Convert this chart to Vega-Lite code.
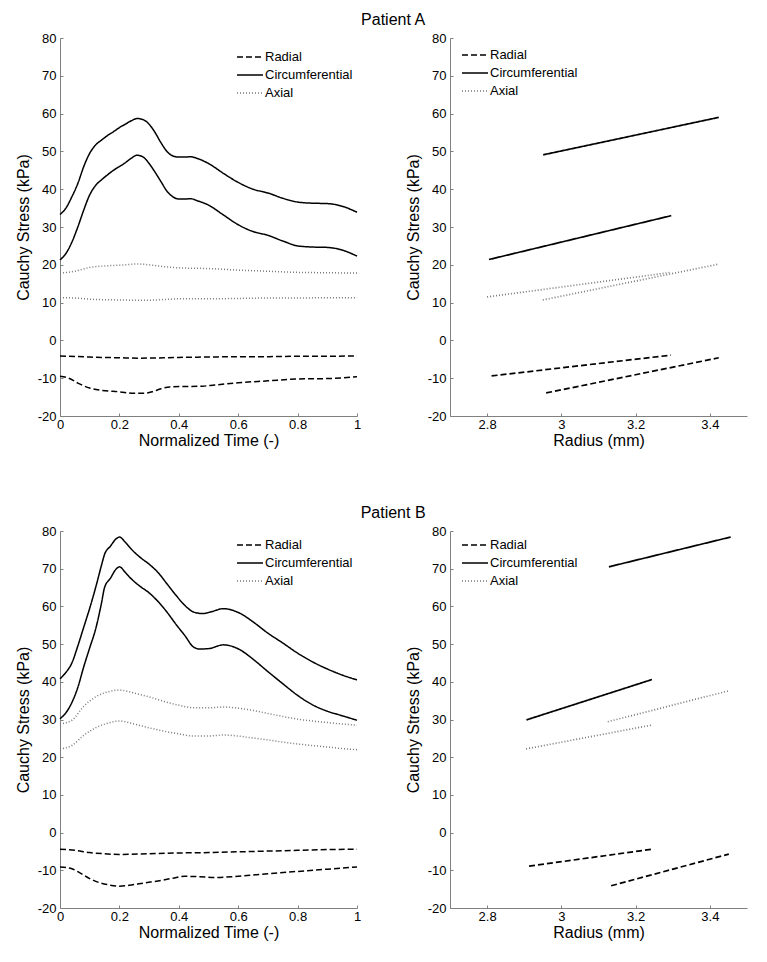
{
  "$schema": "https://vega.github.io/schema/vega-lite/v6.json",
  "background": "white",
  "padding": {"left": 15, "top": 12, "right": 5, "bottom": 5},
  "config": {
    "font": "Liberation Sans",
    "view": {"stroke": null},
    "axis": {"domainColor": "#808080", "tickColor": "#808080", "tickSize": -3, "labelFontSize": 13, "labelColor": "#000000", "titleFontSize": 16, "titleFontWeight": "normal", "titleColor": "#000000", "grid": false, "labelFlush": false, "labelFont": "Liberation Sans", "titleFont": "Liberation Sans"},
    "axisX": {"labelPadding": 5, "titlePadding": 1},
    "axisY": {"labelPadding": 7, "titlePadding": 6},
    "legend": {"title": null, "orient": "none", "symbolType": "M-1.6,0H1", "symbolSize": 400, "symbolStrokeWidth": 1.5, "symbolFillColor": "transparent", "labelFontSize": 13, "labelFont": "Liberation Sans", "labelColor": "#000000", "labelOffset": 1, "rowPadding": -11, "padding": 0},
    "title": {"fontSize": 16, "fontWeight": "normal", "anchor": "middle", "font": "Liberation Sans", "color": "#000000"}
  },
  "datasets": {
    "A_time": [
      {"x":0,"y":33.3,"c":"Circumferential","k":"c1"},{"x":0.02,"y":35,"c":"Circumferential","k":"c1"},{"x":0.04,"y":38,"c":"Circumferential","k":"c1"},{"x":0.06,"y":41.5,"c":"Circumferential","k":"c1"},{"x":0.08,"y":46,"c":"Circumferential","k":"c1"},{"x":0.1,"y":49.5,"c":"Circumferential","k":"c1"},{"x":0.12,"y":51.7,"c":"Circumferential","k":"c1"},{"x":0.14,"y":53,"c":"Circumferential","k":"c1"},{"x":0.16,"y":54.2,"c":"Circumferential","k":"c1"},{"x":0.18,"y":55.2,"c":"Circumferential","k":"c1"},{"x":0.2,"y":56.3,"c":"Circumferential","k":"c1"},{"x":0.22,"y":57.2,"c":"Circumferential","k":"c1"},{"x":0.24,"y":58.1,"c":"Circumferential","k":"c1"},{"x":0.26,"y":58.7,"c":"Circumferential","k":"c1"},{"x":0.28,"y":58.4,"c":"Circumferential","k":"c1"},{"x":0.3,"y":57.2,"c":"Circumferential","k":"c1"},{"x":0.32,"y":55,"c":"Circumferential","k":"c1"},{"x":0.34,"y":52.3,"c":"Circumferential","k":"c1"},{"x":0.36,"y":50,"c":"Circumferential","k":"c1"},{"x":0.38,"y":48.8,"c":"Circumferential","k":"c1"},{"x":0.4,"y":48.5,"c":"Circumferential","k":"c1"},{"x":0.42,"y":48.5,"c":"Circumferential","k":"c1"},{"x":0.44,"y":48.6,"c":"Circumferential","k":"c1"},{"x":0.46,"y":48.2,"c":"Circumferential","k":"c1"},{"x":0.5,"y":46.8,"c":"Circumferential","k":"c1"},{"x":0.55,"y":44.2,"c":"Circumferential","k":"c1"},{"x":0.6,"y":41.8,"c":"Circumferential","k":"c1"},{"x":0.65,"y":40,"c":"Circumferential","k":"c1"},{"x":0.7,"y":39,"c":"Circumferential","k":"c1"},{"x":0.75,"y":37.6,"c":"Circumferential","k":"c1"},{"x":0.8,"y":36.6,"c":"Circumferential","k":"c1"},{"x":0.85,"y":36.3,"c":"Circumferential","k":"c1"},{"x":0.9,"y":36.2,"c":"Circumferential","k":"c1"},{"x":0.95,"y":35.5,"c":"Circumferential","k":"c1"},{"x":1,"y":33.9,"c":"Circumferential","k":"c1"},
      {"x":0,"y":21.3,"c":"Circumferential","k":"c2"},{"x":0.02,"y":23,"c":"Circumferential","k":"c2"},{"x":0.04,"y":26,"c":"Circumferential","k":"c2"},{"x":0.06,"y":30,"c":"Circumferential","k":"c2"},{"x":0.08,"y":34.5,"c":"Circumferential","k":"c2"},{"x":0.1,"y":38.5,"c":"Circumferential","k":"c2"},{"x":0.12,"y":41,"c":"Circumferential","k":"c2"},{"x":0.14,"y":42.5,"c":"Circumferential","k":"c2"},{"x":0.16,"y":43.8,"c":"Circumferential","k":"c2"},{"x":0.18,"y":45,"c":"Circumferential","k":"c2"},{"x":0.2,"y":46,"c":"Circumferential","k":"c2"},{"x":0.22,"y":47,"c":"Circumferential","k":"c2"},{"x":0.24,"y":48.2,"c":"Circumferential","k":"c2"},{"x":0.26,"y":49,"c":"Circumferential","k":"c2"},{"x":0.28,"y":48.5,"c":"Circumferential","k":"c2"},{"x":0.3,"y":46.8,"c":"Circumferential","k":"c2"},{"x":0.32,"y":44.5,"c":"Circumferential","k":"c2"},{"x":0.34,"y":42,"c":"Circumferential","k":"c2"},{"x":0.36,"y":39.5,"c":"Circumferential","k":"c2"},{"x":0.38,"y":38,"c":"Circumferential","k":"c2"},{"x":0.4,"y":37.4,"c":"Circumferential","k":"c2"},{"x":0.42,"y":37.4,"c":"Circumferential","k":"c2"},{"x":0.44,"y":37.5,"c":"Circumferential","k":"c2"},{"x":0.46,"y":37,"c":"Circumferential","k":"c2"},{"x":0.5,"y":35.8,"c":"Circumferential","k":"c2"},{"x":0.55,"y":33.2,"c":"Circumferential","k":"c2"},{"x":0.6,"y":30.6,"c":"Circumferential","k":"c2"},{"x":0.65,"y":28.8,"c":"Circumferential","k":"c2"},{"x":0.7,"y":27.8,"c":"Circumferential","k":"c2"},{"x":0.75,"y":26.3,"c":"Circumferential","k":"c2"},{"x":0.8,"y":25,"c":"Circumferential","k":"c2"},{"x":0.85,"y":24.7,"c":"Circumferential","k":"c2"},{"x":0.9,"y":24.6,"c":"Circumferential","k":"c2"},{"x":0.95,"y":23.9,"c":"Circumferential","k":"c2"},{"x":1,"y":22.3,"c":"Circumferential","k":"c2"},
      {"x":0,"y":17.8,"c":"Axial","k":"a1"},{"x":0.05,"y":18.3,"c":"Axial","k":"a1"},{"x":0.1,"y":19.3,"c":"Axial","k":"a1"},{"x":0.15,"y":19.7,"c":"Axial","k":"a1"},{"x":0.2,"y":19.9,"c":"Axial","k":"a1"},{"x":0.26,"y":20.2,"c":"Axial","k":"a1"},{"x":0.3,"y":20,"c":"Axial","k":"a1"},{"x":0.35,"y":19.5,"c":"Axial","k":"a1"},{"x":0.4,"y":19.2,"c":"Axial","k":"a1"},{"x":0.5,"y":19,"c":"Axial","k":"a1"},{"x":0.6,"y":18.6,"c":"Axial","k":"a1"},{"x":0.7,"y":18.3,"c":"Axial","k":"a1"},{"x":0.8,"y":18,"c":"Axial","k":"a1"},{"x":0.9,"y":17.9,"c":"Axial","k":"a1"},{"x":1,"y":17.8,"c":"Axial","k":"a1"},
      {"x":0,"y":11.3,"c":"Axial","k":"a2"},{"x":0.05,"y":11.2,"c":"Axial","k":"a2"},{"x":0.1,"y":10.9,"c":"Axial","k":"a2"},{"x":0.2,"y":10.7,"c":"Axial","k":"a2"},{"x":0.28,"y":10.6,"c":"Axial","k":"a2"},{"x":0.35,"y":10.8,"c":"Axial","k":"a2"},{"x":0.4,"y":11,"c":"Axial","k":"a2"},{"x":0.5,"y":11,"c":"Axial","k":"a2"},{"x":0.6,"y":11.1,"c":"Axial","k":"a2"},{"x":0.7,"y":11.2,"c":"Axial","k":"a2"},{"x":0.8,"y":11.2,"c":"Axial","k":"a2"},{"x":0.9,"y":11.3,"c":"Axial","k":"a2"},{"x":1,"y":11.3,"c":"Axial","k":"a2"},
      {"x":0,"y":-4.1,"c":"Radial","k":"r1"},{"x":0.1,"y":-4.4,"c":"Radial","k":"r1"},{"x":0.2,"y":-4.6,"c":"Radial","k":"r1"},{"x":0.27,"y":-4.7,"c":"Radial","k":"r1"},{"x":0.4,"y":-4.5,"c":"Radial","k":"r1"},{"x":0.5,"y":-4.4,"c":"Radial","k":"r1"},{"x":0.6,"y":-4.3,"c":"Radial","k":"r1"},{"x":0.7,"y":-4.3,"c":"Radial","k":"r1"},{"x":0.8,"y":-4.2,"c":"Radial","k":"r1"},{"x":0.9,"y":-4.2,"c":"Radial","k":"r1"},{"x":1,"y":-4.1,"c":"Radial","k":"r1"},
      {"x":0,"y":-9.5,"c":"Radial","k":"r2"},{"x":0.03,"y":-10,"c":"Radial","k":"r2"},{"x":0.06,"y":-11.3,"c":"Radial","k":"r2"},{"x":0.1,"y":-12.6,"c":"Radial","k":"r2"},{"x":0.14,"y":-13.2,"c":"Radial","k":"r2"},{"x":0.2,"y":-13.6,"c":"Radial","k":"r2"},{"x":0.25,"y":-14,"c":"Radial","k":"r2"},{"x":0.28,"y":-14,"c":"Radial","k":"r2"},{"x":0.31,"y":-13.6,"c":"Radial","k":"r2"},{"x":0.34,"y":-12.8,"c":"Radial","k":"r2"},{"x":0.37,"y":-12.3,"c":"Radial","k":"r2"},{"x":0.42,"y":-12.2,"c":"Radial","k":"r2"},{"x":0.48,"y":-12.1,"c":"Radial","k":"r2"},{"x":0.52,"y":-11.8,"c":"Radial","k":"r2"},{"x":0.6,"y":-11.2,"c":"Radial","k":"r2"},{"x":0.7,"y":-10.7,"c":"Radial","k":"r2"},{"x":0.8,"y":-10.2,"c":"Radial","k":"r2"},{"x":0.9,"y":-10.1,"c":"Radial","k":"r2"},{"x":0.95,"y":-9.9,"c":"Radial","k":"r2"},{"x":1,"y":-9.6,"c":"Radial","k":"r2"}
    ],
    "A_rad": [
      {"x":2.951,"y":49.1,"c":"Circumferential","k":"c1"},{"x":3.424,"y":59.0,"c":"Circumferential","k":"c1"},
      {"x":2.805,"y":21.4,"c":"Circumferential","k":"c2"},{"x":3.296,"y":33.0,"c":"Circumferential","k":"c2"},
      {"x":2.8,"y":11.5,"c":"Axial","k":"a1"},{"x":3.296,"y":18.0,"c":"Axial","k":"a1"},
      {"x":2.95,"y":10.7,"c":"Axial","k":"a2"},{"x":3.42,"y":20.1,"c":"Axial","k":"a2"},
      {"x":2.812,"y":-9.4,"c":"Radial","k":"r1"},{"x":3.295,"y":-3.9,"c":"Radial","k":"r1"},
      {"x":2.959,"y":-13.9,"c":"Radial","k":"r2"},{"x":3.424,"y":-4.6,"c":"Radial","k":"r2"}
    ],
    "B_time": [
      {"x":0,"y":40.8,"c":"Circumferential","k":"c1"},{"x":0.02,"y":42.5,"c":"Circumferential","k":"c1"},{"x":0.04,"y":45,"c":"Circumferential","k":"c1"},{"x":0.06,"y":49.5,"c":"Circumferential","k":"c1"},{"x":0.08,"y":54.5,"c":"Circumferential","k":"c1"},{"x":0.1,"y":59.5,"c":"Circumferential","k":"c1"},{"x":0.12,"y":65,"c":"Circumferential","k":"c1"},{"x":0.14,"y":71,"c":"Circumferential","k":"c1"},{"x":0.15,"y":73.8,"c":"Circumferential","k":"c1"},{"x":0.17,"y":76,"c":"Circumferential","k":"c1"},{"x":0.19,"y":78,"c":"Circumferential","k":"c1"},{"x":0.2,"y":78.4,"c":"Circumferential","k":"c1"},{"x":0.22,"y":77,"c":"Circumferential","k":"c1"},{"x":0.24,"y":75.2,"c":"Circumferential","k":"c1"},{"x":0.27,"y":73,"c":"Circumferential","k":"c1"},{"x":0.3,"y":71.2,"c":"Circumferential","k":"c1"},{"x":0.33,"y":69,"c":"Circumferential","k":"c1"},{"x":0.36,"y":66,"c":"Circumferential","k":"c1"},{"x":0.39,"y":63,"c":"Circumferential","k":"c1"},{"x":0.42,"y":60.3,"c":"Circumferential","k":"c1"},{"x":0.45,"y":58.5,"c":"Circumferential","k":"c1"},{"x":0.48,"y":58.1,"c":"Circumferential","k":"c1"},{"x":0.51,"y":58.6,"c":"Circumferential","k":"c1"},{"x":0.55,"y":59.4,"c":"Circumferential","k":"c1"},{"x":0.58,"y":59,"c":"Circumferential","k":"c1"},{"x":0.61,"y":58,"c":"Circumferential","k":"c1"},{"x":0.65,"y":55.9,"c":"Circumferential","k":"c1"},{"x":0.7,"y":52.9,"c":"Circumferential","k":"c1"},{"x":0.75,"y":50.3,"c":"Circumferential","k":"c1"},{"x":0.8,"y":47.6,"c":"Circumferential","k":"c1"},{"x":0.85,"y":45.3,"c":"Circumferential","k":"c1"},{"x":0.9,"y":43.4,"c":"Circumferential","k":"c1"},{"x":0.95,"y":41.8,"c":"Circumferential","k":"c1"},{"x":1,"y":40.5,"c":"Circumferential","k":"c1"},
      {"x":0,"y":30.2,"c":"Circumferential","k":"c2"},{"x":0.02,"y":31.8,"c":"Circumferential","k":"c2"},{"x":0.04,"y":34.5,"c":"Circumferential","k":"c2"},{"x":0.06,"y":38.5,"c":"Circumferential","k":"c2"},{"x":0.08,"y":44,"c":"Circumferential","k":"c2"},{"x":0.1,"y":49,"c":"Circumferential","k":"c2"},{"x":0.12,"y":54,"c":"Circumferential","k":"c2"},{"x":0.14,"y":61,"c":"Circumferential","k":"c2"},{"x":0.15,"y":65,"c":"Circumferential","k":"c2"},{"x":0.17,"y":67.5,"c":"Circumferential","k":"c2"},{"x":0.19,"y":70,"c":"Circumferential","k":"c2"},{"x":0.2,"y":70.5,"c":"Circumferential","k":"c2"},{"x":0.22,"y":69,"c":"Circumferential","k":"c2"},{"x":0.24,"y":67.3,"c":"Circumferential","k":"c2"},{"x":0.27,"y":65.3,"c":"Circumferential","k":"c2"},{"x":0.3,"y":63.6,"c":"Circumferential","k":"c2"},{"x":0.33,"y":61.3,"c":"Circumferential","k":"c2"},{"x":0.36,"y":58.5,"c":"Circumferential","k":"c2"},{"x":0.39,"y":55.3,"c":"Circumferential","k":"c2"},{"x":0.42,"y":52.3,"c":"Circumferential","k":"c2"},{"x":0.45,"y":49.2,"c":"Circumferential","k":"c2"},{"x":0.47,"y":48.7,"c":"Circumferential","k":"c2"},{"x":0.5,"y":48.8,"c":"Circumferential","k":"c2"},{"x":0.55,"y":49.8,"c":"Circumferential","k":"c2"},{"x":0.58,"y":49.4,"c":"Circumferential","k":"c2"},{"x":0.61,"y":48.3,"c":"Circumferential","k":"c2"},{"x":0.65,"y":46,"c":"Circumferential","k":"c2"},{"x":0.7,"y":42.7,"c":"Circumferential","k":"c2"},{"x":0.75,"y":39.5,"c":"Circumferential","k":"c2"},{"x":0.8,"y":36.4,"c":"Circumferential","k":"c2"},{"x":0.85,"y":33.9,"c":"Circumferential","k":"c2"},{"x":0.9,"y":32.2,"c":"Circumferential","k":"c2"},{"x":0.95,"y":31,"c":"Circumferential","k":"c2"},{"x":1,"y":29.8,"c":"Circumferential","k":"c2"},
      {"x":0,"y":28.8,"c":"Axial","k":"a1"},{"x":0.04,"y":29.8,"c":"Axial","k":"a1"},{"x":0.08,"y":33.5,"c":"Axial","k":"a1"},{"x":0.12,"y":36,"c":"Axial","k":"a1"},{"x":0.16,"y":37.3,"c":"Axial","k":"a1"},{"x":0.2,"y":37.8,"c":"Axial","k":"a1"},{"x":0.25,"y":37,"c":"Axial","k":"a1"},{"x":0.3,"y":36,"c":"Axial","k":"a1"},{"x":0.35,"y":34.8,"c":"Axial","k":"a1"},{"x":0.4,"y":33.8,"c":"Axial","k":"a1"},{"x":0.45,"y":33.1,"c":"Axial","k":"a1"},{"x":0.5,"y":33.1,"c":"Axial","k":"a1"},{"x":0.55,"y":33.3,"c":"Axial","k":"a1"},{"x":0.6,"y":33,"c":"Axial","k":"a1"},{"x":0.65,"y":32.4,"c":"Axial","k":"a1"},{"x":0.7,"y":31.6,"c":"Axial","k":"a1"},{"x":0.75,"y":30.8,"c":"Axial","k":"a1"},{"x":0.8,"y":30.1,"c":"Axial","k":"a1"},{"x":0.85,"y":29.6,"c":"Axial","k":"a1"},{"x":0.9,"y":29.2,"c":"Axial","k":"a1"},{"x":0.95,"y":28.8,"c":"Axial","k":"a1"},{"x":1,"y":28.5,"c":"Axial","k":"a1"},
      {"x":0,"y":22.2,"c":"Axial","k":"a2"},{"x":0.04,"y":23.1,"c":"Axial","k":"a2"},{"x":0.08,"y":25.8,"c":"Axial","k":"a2"},{"x":0.12,"y":27.8,"c":"Axial","k":"a2"},{"x":0.16,"y":29,"c":"Axial","k":"a2"},{"x":0.2,"y":29.6,"c":"Axial","k":"a2"},{"x":0.25,"y":28.8,"c":"Axial","k":"a2"},{"x":0.3,"y":27.8,"c":"Axial","k":"a2"},{"x":0.35,"y":26.9,"c":"Axial","k":"a2"},{"x":0.4,"y":26.2,"c":"Axial","k":"a2"},{"x":0.45,"y":25.6,"c":"Axial","k":"a2"},{"x":0.5,"y":25.6,"c":"Axial","k":"a2"},{"x":0.55,"y":25.9,"c":"Axial","k":"a2"},{"x":0.6,"y":25.6,"c":"Axial","k":"a2"},{"x":0.65,"y":25.1,"c":"Axial","k":"a2"},{"x":0.7,"y":24.6,"c":"Axial","k":"a2"},{"x":0.75,"y":24,"c":"Axial","k":"a2"},{"x":0.8,"y":23.5,"c":"Axial","k":"a2"},{"x":0.85,"y":23.1,"c":"Axial","k":"a2"},{"x":0.9,"y":22.7,"c":"Axial","k":"a2"},{"x":0.95,"y":22.3,"c":"Axial","k":"a2"},{"x":1,"y":22,"c":"Axial","k":"a2"},
      {"x":0,"y":-4.4,"c":"Radial","k":"r1"},{"x":0.05,"y":-4.7,"c":"Radial","k":"r1"},{"x":0.1,"y":-5.3,"c":"Radial","k":"r1"},{"x":0.15,"y":-5.6,"c":"Radial","k":"r1"},{"x":0.2,"y":-5.8,"c":"Radial","k":"r1"},{"x":0.3,"y":-5.6,"c":"Radial","k":"r1"},{"x":0.4,"y":-5.4,"c":"Radial","k":"r1"},{"x":0.5,"y":-5.3,"c":"Radial","k":"r1"},{"x":0.6,"y":-5.1,"c":"Radial","k":"r1"},{"x":0.7,"y":-4.9,"c":"Radial","k":"r1"},{"x":0.8,"y":-4.7,"c":"Radial","k":"r1"},{"x":0.9,"y":-4.5,"c":"Radial","k":"r1"},{"x":1,"y":-4.4,"c":"Radial","k":"r1"},
      {"x":0,"y":-9.1,"c":"Radial","k":"r2"},{"x":0.04,"y":-9.6,"c":"Radial","k":"r2"},{"x":0.07,"y":-10.8,"c":"Radial","k":"r2"},{"x":0.1,"y":-12.2,"c":"Radial","k":"r2"},{"x":0.13,"y":-13.2,"c":"Radial","k":"r2"},{"x":0.16,"y":-13.8,"c":"Radial","k":"r2"},{"x":0.2,"y":-14.2,"c":"Radial","k":"r2"},{"x":0.24,"y":-13.9,"c":"Radial","k":"r2"},{"x":0.28,"y":-13.4,"c":"Radial","k":"r2"},{"x":0.34,"y":-12.7,"c":"Radial","k":"r2"},{"x":0.38,"y":-12.1,"c":"Radial","k":"r2"},{"x":0.42,"y":-11.6,"c":"Radial","k":"r2"},{"x":0.47,"y":-11.7,"c":"Radial","k":"r2"},{"x":0.52,"y":-11.9,"c":"Radial","k":"r2"},{"x":0.58,"y":-11.7,"c":"Radial","k":"r2"},{"x":0.64,"y":-11.3,"c":"Radial","k":"r2"},{"x":0.7,"y":-10.9,"c":"Radial","k":"r2"},{"x":0.8,"y":-10.3,"c":"Radial","k":"r2"},{"x":0.9,"y":-9.7,"c":"Radial","k":"r2"},{"x":1,"y":-9.1,"c":"Radial","k":"r2"}
    ],
    "B_rad": [
      {"x":3.128,"y":70.5,"c":"Circumferential","k":"c1"},{"x":3.456,"y":78.4,"c":"Circumferential","k":"c1"},
      {"x":2.906,"y":29.9,"c":"Circumferential","k":"c2"},{"x":3.244,"y":40.6,"c":"Circumferential","k":"c2"},
      {"x":3.125,"y":29.4,"c":"Axial","k":"a1"},{"x":3.454,"y":37.7,"c":"Axial","k":"a1"},
      {"x":2.905,"y":22.2,"c":"Axial","k":"a2"},{"x":3.242,"y":28.5,"c":"Axial","k":"a2"},
      {"x":2.913,"y":-8.9,"c":"Radial","k":"r1"},{"x":3.244,"y":-4.4,"c":"Radial","k":"r1"},
      {"x":3.134,"y":-14.1,"c":"Radial","k":"r2"},{"x":3.451,"y":-5.7,"c":"Radial","k":"r2"}
    ]
  },
  "resolve": {"scale": {"color": "independent", "strokeDash": "independent"}, "legend": {"color": "independent", "strokeDash": "independent"}},
  "spacing": 57,
  "vconcat": [
    {
      "title": {"text": "Patient A", "dx": 12},
      "spacing": 44,
      "resolve": {"scale": {"color": "independent", "strokeDash": "independent"}, "legend": {"color": "independent", "strokeDash": "independent"}},
      "hconcat": [
        {
          "width": 297, "height": 378,
          "data": {"name": "A_time"},
          "mark": {"type": "line", "strokeWidth": 1.5, "interpolate": "monotone"},
          "encoding": {
            "x": {"field": "x", "type": "quantitative", "scale": {"domain": [0, 1], "nice": false}, "axis": {"title": "Normalized Time (-)", "values": [0, 0.2, 0.4, 0.6, 0.8, 1], "labelExpr": "'' + datum.value"}},
            "y": {"field": "y", "type": "quantitative", "scale": {"domain": [-20, 80], "nice": false}, "axis": {"title": "Cauchy Stress (kPa)", "values": [-20, -10, 0, 10, 20, 30, 40, 50, 60, 70, 80], "labelExpr": "'' + datum.value"}},
            "detail": {"field": "k"},
            "color": {"field": "c", "type": "nominal", "scale": {"domain": ["Radial", "Circumferential", "Axial"], "range": ["#000000", "#000000", "#7a7a7a"]}, "legend": {"legendX": 182, "legendY": 8}},
            "strokeDash": {"field": "c", "type": "nominal", "scale": {"domain": ["Radial", "Circumferential", "Axial"], "range": [[6, 3], [1, 0], [1, 2]]}, "legend": {"legendX": 182, "legendY": 8}}
          }
        },
        {
          "width": 297, "height": 378,
          "data": {"name": "A_rad"},
          "mark": {"type": "line", "strokeWidth": 1.7},
          "encoding": {
            "x": {"field": "x", "type": "quantitative", "scale": {"domain": [2.7, 3.5], "nice": false, "zero": false}, "axis": {"title": "Radius (mm)", "values": [2.8, 3, 3.2, 3.4], "labelExpr": "'' + datum.value"}},
            "y": {"field": "y", "type": "quantitative", "scale": {"domain": [-20, 80], "nice": false}, "axis": {"title": "Cauchy Stress (kPa)", "values": [-20, -10, 0, 10, 20, 30, 40, 50, 60, 70, 80], "labelExpr": "'' + datum.value"}},
            "detail": {"field": "k"},
            "color": {"field": "c", "type": "nominal", "scale": {"domain": ["Radial", "Circumferential", "Axial"], "range": ["#000000", "#000000", "#7a7a7a"]}, "legend": {"legendX": 17, "legendY": 6}},
            "strokeDash": {"field": "c", "type": "nominal", "scale": {"domain": ["Radial", "Circumferential", "Axial"], "range": [[6, 3], [1, 0], [1, 2]]}, "legend": {"legendX": 17, "legendY": 6}}
          }
        }
      ]
    },
    {
      "title": {"text": "Patient B", "dx": 12},
      "spacing": 44,
      "resolve": {"scale": {"color": "independent", "strokeDash": "independent"}, "legend": {"color": "independent", "strokeDash": "independent"}},
      "hconcat": [
        {
          "width": 297, "height": 377,
          "data": {"name": "B_time"},
          "mark": {"type": "line", "strokeWidth": 1.5, "interpolate": "monotone"},
          "encoding": {
            "x": {"field": "x", "type": "quantitative", "scale": {"domain": [0, 1], "nice": false}, "axis": {"title": "Normalized Time (-)", "values": [0, 0.2, 0.4, 0.6, 0.8, 1], "labelExpr": "'' + datum.value"}},
            "y": {"field": "y", "type": "quantitative", "scale": {"domain": [-20, 80], "nice": false}, "axis": {"title": "Cauchy Stress (kPa)", "values": [-20, -10, 0, 10, 20, 30, 40, 50, 60, 70, 80], "labelExpr": "'' + datum.value"}},
            "detail": {"field": "k"},
            "color": {"field": "c", "type": "nominal", "scale": {"domain": ["Radial", "Circumferential", "Axial"], "range": ["#000000", "#000000", "#7a7a7a"]}, "legend": {"legendX": 182, "legendY": 3}},
            "strokeDash": {"field": "c", "type": "nominal", "scale": {"domain": ["Radial", "Circumferential", "Axial"], "range": [[6, 3], [1, 0], [1, 2]]}, "legend": {"legendX": 182, "legendY": 3}}
          }
        },
        {
          "width": 297, "height": 377,
          "data": {"name": "B_rad"},
          "mark": {"type": "line", "strokeWidth": 1.7},
          "encoding": {
            "x": {"field": "x", "type": "quantitative", "scale": {"domain": [2.7, 3.5], "nice": false, "zero": false}, "axis": {"title": "Radius (mm)", "values": [2.8, 3, 3.2, 3.4], "labelExpr": "'' + datum.value"}},
            "y": {"field": "y", "type": "quantitative", "scale": {"domain": [-20, 80], "nice": false}, "axis": {"title": "Cauchy Stress (kPa)", "values": [-20, -10, 0, 10, 20, 30, 40, 50, 60, 70, 80], "labelExpr": "'' + datum.value"}},
            "detail": {"field": "k"},
            "color": {"field": "c", "type": "nominal", "scale": {"domain": ["Radial", "Circumferential", "Axial"], "range": ["#000000", "#000000", "#7a7a7a"]}, "legend": {"legendX": 17, "legendY": 3}},
            "strokeDash": {"field": "c", "type": "nominal", "scale": {"domain": ["Radial", "Circumferential", "Axial"], "range": [[6, 3], [1, 0], [1, 2]]}, "legend": {"legendX": 17, "legendY": 3}}
          }
        }
      ]
    }
  ]
}
